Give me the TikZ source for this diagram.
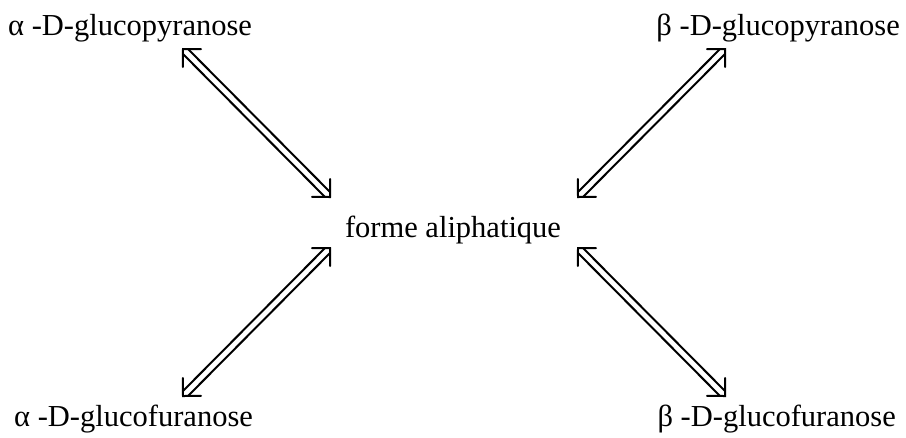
\documentclass[tikz,border=0pt]{standalone}
\usepackage{fontspec}
\setmainfont{Liberation Serif}
\usetikzlibrary{calc}
\newcommand\eqarrowhead[2]{%
  \draw[eqline] ($(#1)!18pt!45:(#2)$) -- (#1) -- ($(#1)!18pt!-45:(#2)$);
  \draw[eqline] ($(#2)!18pt!45:(#1)$) -- (#2) -- ($(#2)!18pt!-45:(#1)$);
  \draw[eqline] ($(#1)!5pt!45:(#2)$) -- ($(#2)!5pt!-45:(#1)$);
  \draw[eqline] ($(#1)!5pt!-45:(#2)$) -- ($(#2)!5pt!45:(#1)$);}
\begin{document}
\begin{tikzpicture}[x=1pt,y=-1pt,
  lbl/.style={inner sep=0pt,font=\fontsize{30.5}{34}\selectfont},
  eqline/.style={line width=2pt, line join=miter, line cap=round}]
\useasboundingbox (0,0) rectangle (906,437);
\node[lbl,anchor=base west] (ap) at (8,35) {α -D-glucopyranose};
\node[lbl,anchor=base east] (bp) at (900,35) {β -D-glucopyranose};
\node[lbl,anchor=base] (al) at (453,237) {forme aliphatique};
\node[lbl,anchor=base west] (af) at (14,426) {α -D-glucofuranose};
\node[lbl,anchor=base east] (bf) at (896,426) {β -D-glucofuranose};
\coordinate (ap1) at (183,49);
\coordinate (ap2) at (330,197);
\coordinate (bp1) at (725,49);
\coordinate (bp2) at (578,197);
\coordinate (af1) at (330,248);
\coordinate (af2) at (183,396);
\coordinate (bf1) at (578,248);
\coordinate (bf2) at (725,396);
\eqarrowhead{ap1}{ap2}
\eqarrowhead{bp1}{bp2}
\eqarrowhead{af1}{af2}
\eqarrowhead{bf1}{bf2}
\end{tikzpicture}
\end{document}
